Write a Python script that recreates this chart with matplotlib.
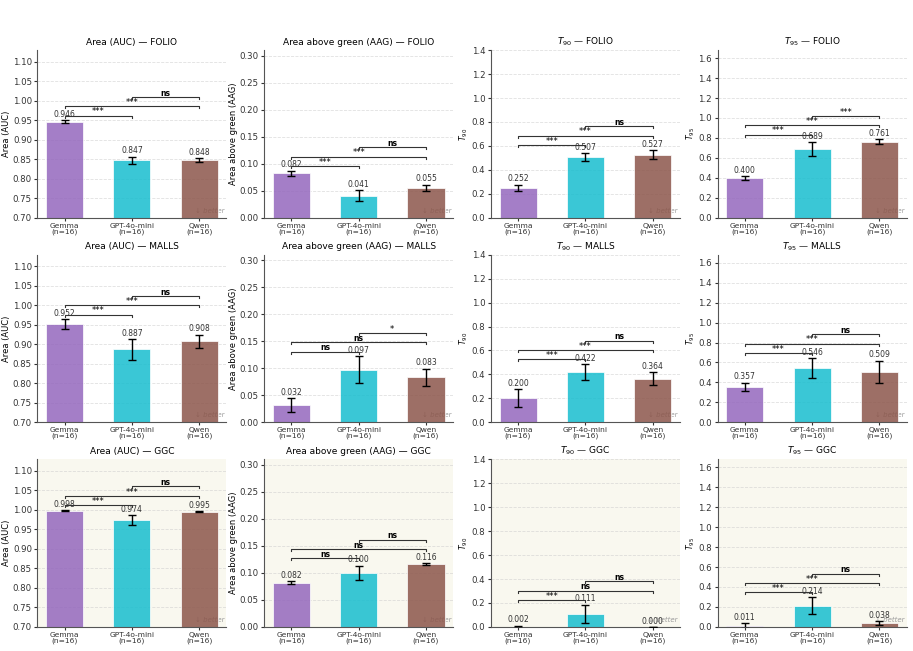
"""Per-model metric grid: AUC / AAG / T90 / T95 across FOLIO, MALLS, GGC."""

import matplotlib
matplotlib.use("Agg")
import matplotlib.pyplot as plt
import numpy as np

MODELS = ["Gemma", "GPT-4o-mini", "Qwen"]
N_PER = [16, 16, 16]
COLORS = ["tab:purple", "tab:cyan", "tab:brown"]
DATASETS = ["FOLIO", "MALLS", "GGC"]

METRICS = ["auc", "aag", "t90", "t95"]
TITLES = {"auc": "Area (AUC)", "aag": "Area above green (AAG)",
          "t90": "$T_{90}$", "t95": "$T_{95}$"}
YLABELS = {"auc": "Area (AUC)", "aag": "Area above green (AAG)",
           "t90": "$T_{90}$", "t95": "$T_{95}$"}
YLIMS = {"auc": (0.70, 1.13), "aag": (0.0, 0.31),
         "t90": (0.0, 1.4), "t95": (0.0, 1.68)}
YTICKS = {"auc": np.arange(0.70, 1.101, 0.05), "aag": np.arange(0, 0.301, 0.05),
          "t90": np.arange(0, 1.41, 0.2), "t95": np.arange(0, 1.61, 0.2)}
YFMT = {"auc": "{:.2f}", "aag": "{:.2f}", "t90": "{:.1f}", "t95": "{:.1f}"}

# means (Gemma, GPT-4o-mini, Qwen) per dataset/metric
MEANS = {
    ("FOLIO", "auc"): [0.946, 0.847, 0.848],
    ("FOLIO", "aag"): [0.082, 0.041, 0.055],
    ("FOLIO", "t90"): [0.252, 0.507, 0.527],
    ("FOLIO", "t95"): [0.400, 0.689, 0.761],
    ("MALLS", "auc"): [0.952, 0.887, 0.908],
    ("MALLS", "aag"): [0.032, 0.097, 0.083],
    ("MALLS", "t90"): [0.200, 0.422, 0.364],
    ("MALLS", "t95"): [0.357, 0.546, 0.509],
    ("GGC", "auc"): [0.998, 0.974, 0.995],
    ("GGC", "aag"): [0.082, 0.100, 0.116],
    ("GGC", "t90"): [0.002, 0.111, 0.000],
    ("GGC", "t95"): [0.011, 0.214, 0.038],
}
# error bar half-widths
ERRS = {
    ("FOLIO", "auc"): [0.004, 0.010, 0.005],
    ("FOLIO", "aag"): [0.005, 0.010, 0.006],
    ("FOLIO", "t90"): [0.025, 0.030, 0.040],
    ("FOLIO", "t95"): [0.020, 0.070, 0.025],
    ("MALLS", "auc"): [0.012, 0.026, 0.017],
    ("MALLS", "aag"): [0.013, 0.025, 0.016],
    ("MALLS", "t90"): [0.075, 0.065, 0.055],
    ("MALLS", "t95"): [0.040, 0.100, 0.110],
    ("GGC", "auc"): [0.002, 0.013, 0.001],
    ("GGC", "aag"): [0.003, 0.013, 0.002],
    ("GGC", "t90"): [0.008, 0.075, 0.000],
    ("GGC", "t95"): [0.025, 0.085, 0.022],
}
# significance for pairs (0,1), (0,2), (1,2)
PAIRS = [(0, 1), (0, 2), (1, 2)]
SIGS = {
    ("FOLIO", "auc"): ["***", "***", "ns"],
    ("FOLIO", "aag"): ["***", "***", "ns"],
    ("FOLIO", "t90"): ["***", "***", "ns"],
    ("FOLIO", "t95"): ["***", "***", "***"],
    ("MALLS", "auc"): ["***", "***", "ns"],
    ("MALLS", "aag"): ["ns", "ns", "*"],
    ("MALLS", "t90"): ["***", "***", "ns"],
    ("MALLS", "t95"): ["***", "***", "ns"],
    ("GGC", "auc"): ["***", "***", "ns"],
    ("GGC", "aag"): ["ns", "ns", "ns"],
    ("GGC", "t90"): ["***", "ns", "ns"],
    ("GGC", "t95"): ["***", "***", "ns"],
}

fig, axes = plt.subplots(3, 4, figsize=(9.13, 6.51), dpi=100)
fig.subplots_adjust(left=0.041, right=0.993, top=0.923, bottom=0.037,
                    wspace=0.20, hspace=0.22)

x = np.arange(len(MODELS))
xlabels = [f"{m}\n(n={n})" for m, n in zip(MODELS, N_PER)]

for r, ds in enumerate(DATASETS):
    for c, met in enumerate(METRICS):
        ax = axes[r, c]
        mean = np.array(MEANS[(ds, met)])
        err = np.array(ERRS[(ds, met)])
        lo, hi = YLIMS[met]
        span = hi - lo

        if ds == "GGC":
            ax.set_facecolor("#f9f8ef")

        ax.bar(x, mean - lo, bottom=lo, width=0.55, color=COLORS, alpha=0.85,
               edgecolor="white", linewidth=0.6, zorder=2)
        ax.errorbar(x, mean, yerr=err, fmt="none", ecolor="black",
                    elinewidth=1.0, capsize=3, capthick=1.0, zorder=3)
        for xi, m, e in zip(x, mean, err):
            ax.text(xi, m + e + 0.008 * span, f"{m:.3f}", ha="center",
                    va="bottom", fontsize=5.5, color="#333333", zorder=4)

        # significance brackets
        base = (mean + err).max() + 0.028 * span
        step = 0.056 * span
        tick = 0.012 * span
        for k, ((i, j), s) in enumerate(zip(PAIRS, SIGS[(ds, met)])):
            y = base + k * step
            ax.plot([i, i, j, j], [y - tick, y, y, y - tick], color="#333333",
                    lw=0.8, zorder=4)
            ax.text((i + j) / 2, y - 0.004 * span, s, ha="center", va="bottom",
                    fontsize=6 if s != "ns" else 5.5,
                    fontweight="bold" if s == "ns" else "normal", zorder=4)

        ax.text(0.99, 0.025, "\u2193 better", transform=ax.transAxes,
                ha="right", va="bottom", fontsize=5, style="italic",
                color="#9a9a9a", zorder=0)

        ax.set_ylim(lo, hi)
        ax.set_yticks(YTICKS[met])
        ax.set_yticklabels([YFMT[met].format(v) for v in YTICKS[met]],
                           fontsize=6.2)
        ax.set_xticks(x)
        ax.set_xticklabels(xlabels, fontsize=5.4, linespacing=0.95)
        ax.set_title(f"{TITLES[met]} \u2014 {ds}", fontsize=6.5, pad=4)
        ax.set_ylabel(YLABELS[met], fontsize=6 if met in ("auc", "aag") else 5.5,
                      labelpad=1)
        ax.grid(axis="y", ls="--", lw=0.6, color="#cccccc", alpha=0.6, zorder=0)
        ax.set_axisbelow(True)
        ax.spines["top"].set_visible(False)
        ax.spines["right"].set_visible(False)
        ax.spines["left"].set_color("#555555")
        ax.spines["bottom"].set_color("#555555")
        ax.tick_params(axis="y", length=2.5, pad=1.5, colors="#333333")
        ax.tick_params(axis="x", length=2.5, pad=1, colors="#333333")

fig.savefig("out.png", facecolor="white")
plt.close(fig)
